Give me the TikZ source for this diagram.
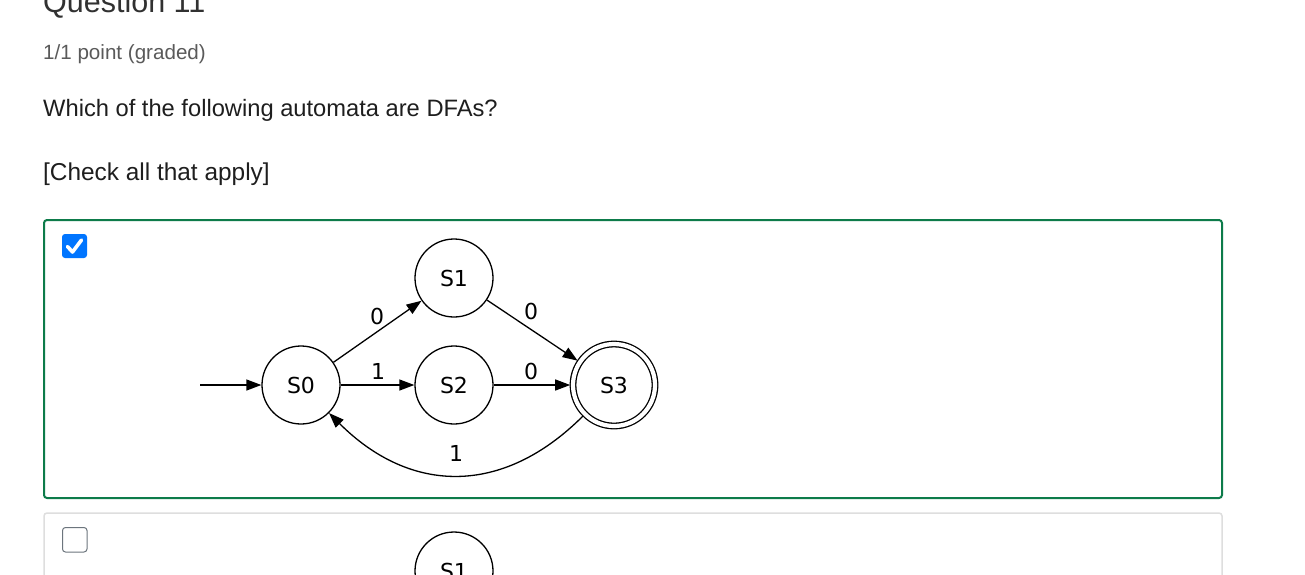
\documentclass[tikz,border=0pt]{standalone}
\usepackage{fontspec}
\setmainfont{Liberation Sans}
\newfontfamily\gvfont{DejaVu Sans}
\usetikzlibrary{arrows.meta}
\definecolor{okgreen}{HTML}{0D7B4A}
\definecolor{chkblue}{HTML}{0075FF}
\definecolor{boxgray}{HTML}{DEDEDE}
\definecolor{chkgray}{HTML}{6C757D}
\definecolor{titlegray}{HTML}{313131}
\definecolor{subgray}{HTML}{5A5A5A}
\definecolor{bodytext}{HTML}{1E1E1E}
\begin{document}
\begin{tikzpicture}[x=1pt,y=-1pt,
  state/.style={circle,draw,line width=1.3pt,minimum size=78pt,inner sep=0pt,font=\gvfont\fontsize{22}{26}\selectfont},
  accept/.style={state,minimum size=82pt,double,double distance=4.2pt,outer sep=2.8pt},
  trans/.style={line width=1.3pt,-{Triangle[length=15pt,width=11pt]}},
  elabel/.style={font=\gvfont\fontsize{22}{26}\selectfont,inner sep=1pt},
  para/.style={anchor=base west,inner sep=0pt}]
\useasboundingbox (0,0) rectangle (1305,574);
\clip (0,0) rectangle (1305,574);
\fill[white] (0,0) rectangle (1305,574);
% texts
\node[para,text=titlegray,font=\fontsize{30.5}{34}\selectfont] (title) at (43,12) {Question 11};
\node[para,text=subgray,font=\fontsize{20.6}{24}\selectfont] (points) at (43,59) {1/1 point (graded)};
\node[para,text=bodytext,font=\fontsize{23.7}{28}\selectfont] (question) at (43,116) {Which of the following automata are DFAs?};
\node[para,text=bodytext,font=\fontsize{24.4}{28}\selectfont] (hint) at (43,180) {[Check all that apply]};
% option 1 box
\draw[okgreen,line width=2pt,rounded corners=3pt] (44,220) rectangle (1222,498);
\fill[chkblue,rounded corners=3pt] (62,234) rectangle (87,258);
\draw[white,line width=3.6pt,line cap=round,line join=round] (67.5,246.5) -- (72.5,252) -- (81.5,240);
% automaton
\node[state] (S0) at (301,385) {S0};
\node[state] (S1) at (454,278) {S1};
\node[state] (S2) at (454,385) {S2};
\node[accept] (S3) at (614,385) {S3};
\coordinate (init) at (200,385);
\draw[trans] (init) -- (S0);
\draw[trans] (S0) -- (S1);
\draw[trans] (S0) -- (S2);
\draw[trans] (S1) -- (S3);
\draw[trans] (S2) -- (S3);
\draw[trans] (S3) to[out=-135,in=-45,looseness=1.15] node[elabel,pos=0.5,above=12pt] (l30) {1} (S0);
\node[elabel] (l01) at (377,316) {0};
\node[elabel] (l02) at (378,371) {1};
\node[elabel] (l13) at (531,311) {0};
\node[elabel] (l23) at (531,371) {0};
% option 2 box
\draw[boxgray,line width=1.5pt,rounded corners=3pt] (44,513) rectangle (1222,620);
\draw[chkgray,line width=1pt,rounded corners=3pt] (62.5,527.5) rectangle (87,552);
\node[state] (T1) at (454,571) {S1};
\end{tikzpicture}
\end{document}
